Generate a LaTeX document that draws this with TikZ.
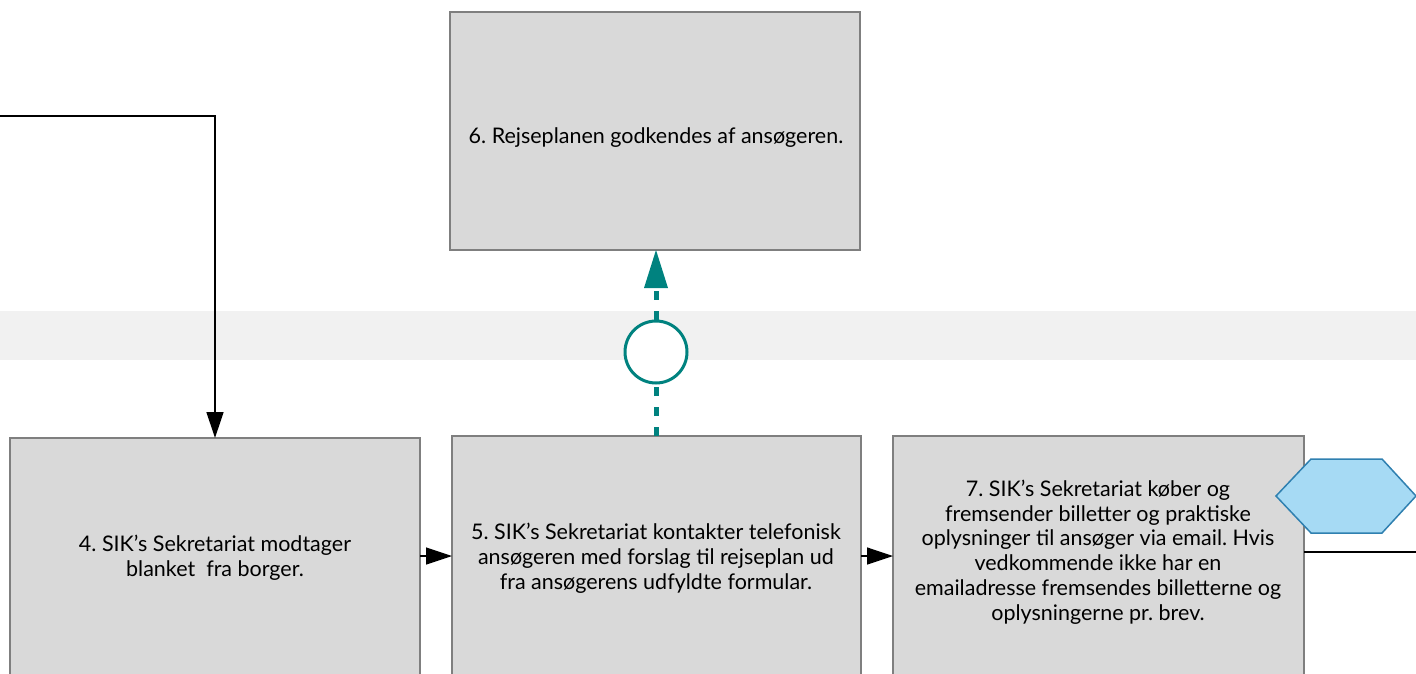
\documentclass[tikz,border=0pt]{standalone}
\usepackage{fontspec}
\setmainfont{Lato}
\frenchspacing
\usetikzlibrary{arrows.meta}
\definecolor{boxfill}{HTML}{D9D9D9}
\definecolor{boxline}{HTML}{7F7F7F}
\definecolor{bandfill}{HTML}{F1F1F1}
\definecolor{teal}{HTML}{00827F}
\definecolor{hexfill}{HTML}{A6DAF4}
\definecolor{hexline}{HTML}{2F80B0}
\tikzset{
  stepbox/.style={draw=boxline, line width=1.3pt, fill=boxfill},
  boxtext/.style={align=center, font=\fontsize{21.5}{24.8}\selectfont, text=black},
  flow/.style={line width=1.3pt, -{Triangle[length=26pt,width=17pt]}},
  msg/.style={teal, line width=5pt, dash pattern=on 9pt off 11pt},
}
\begin{document}
\begin{tikzpicture}[x=1pt,y=-1pt]
  \useasboundingbox (0,0) rectangle (1416,673);
  \begin{scope}
    \clip (0,0) rectangle (1416,673);
    % lane band
    \fill[bandfill] (0,311) rectangle (1416,360);
    % activity boxes
    \draw[stepbox] (450,12) rectangle (860,250);
    \draw[stepbox] (10,438) rectangle (420,700);
    \draw[stepbox] (452,436) rectangle (861,700);
    \draw[stepbox] (893,436) rectangle (1304,700);
    \node[boxtext] (b6) at (656,138) {6. Rejseplanen godkendes af ansøgeren.};
    \node[boxtext] (b4) at (215,558) {4. SIK’s Sekretariat modtager\\blanket\ \ fra borger.};
    \node[boxtext] (b5) at (656,558) {5. SIK’s Sekretariat kontakter telefonisk\\ansøgeren med forslag til rejseplan ud\\fra ansøgerens udfyldte formular.};
    \node[boxtext] (b7) at (1098,552) {7. SIK’s Sekretariat køber og\\fremsender billetter og praktiske\\oplysninger til ansøger via email. Hvis\\vedkommende ikke har en\\emailadresse fremsendes billetterne og\\oplysningerne pr. brev.};
    % anchor points on box edges
    \coordinate (b4top) at (215,438);
    \coordinate (b4right) at (420,556);
    \coordinate (b5left) at (452,556);
    \coordinate (b5right) at (861,556);
    \coordinate (b7left) at (893,556);
    \coordinate (b7right) at (1304,552);
    \coordinate (b5top) at (656,436);
    \coordinate (b6bot) at (656,250);
    \coordinate (inleft) at (0,116);
    \coordinate (inbend) at (215,116);
    \coordinate (outright) at (1416,552);
    % sequence flows
    \draw[flow] (inleft) -- (inbend) -- (b4top);
    \draw[flow] (b4right) -- (b5left);
    \draw[flow] (b5right) -- (b7left);
    \draw[line width=1.3pt] (b7right) -- (outright);
    % message flow with envelope circle
    \node[circle, draw=teal, line width=3pt, fill=white, minimum size=62pt, inner sep=0pt] (msgc) at (656,352) {};
    \draw[msg] (b5top) -- (msgc.south);
    \draw[msg] (msgc.north) -- (656,290);
    \fill[teal] (b6bot) -- (644,288) -- (668,288) -- cycle;
    % event hexagon
    \draw[fill=hexfill, draw=hexline, line width=1.5pt] (1276,496) -- (1311,459) -- (1382,459) -- (1416,496) -- (1382,533) -- (1311,533) -- cycle;
  \end{scope}
\end{tikzpicture}
\end{document}
